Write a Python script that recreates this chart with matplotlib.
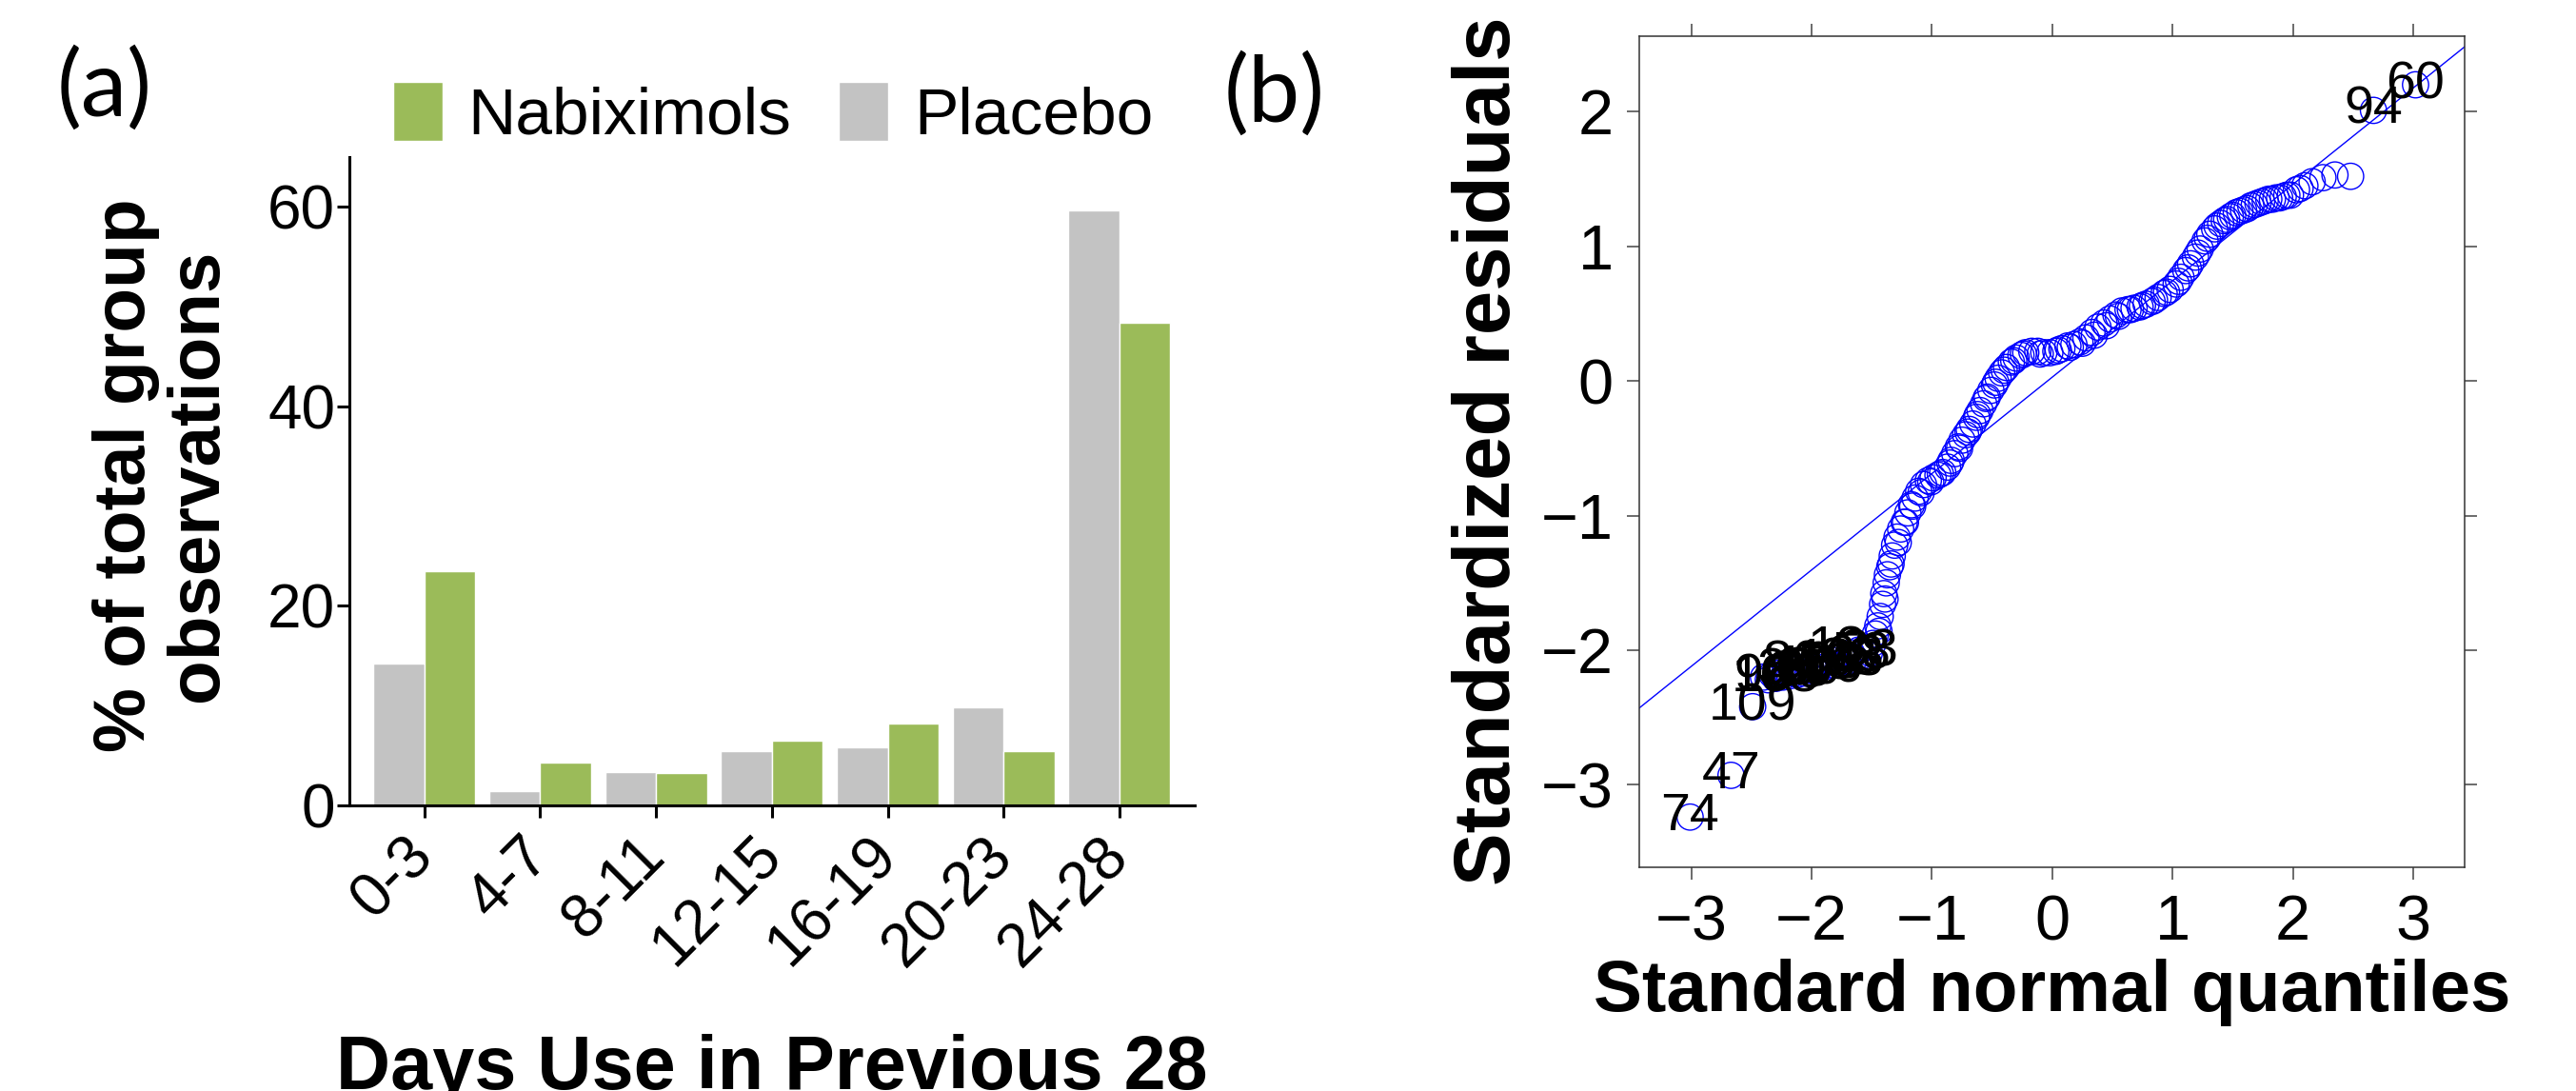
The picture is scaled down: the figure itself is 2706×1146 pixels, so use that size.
import matplotlib
matplotlib.use("Agg")
import matplotlib.pyplot as plt
import numpy as np

plt.rcParams['font.family'] = ['Liberation Sans', 'DejaVu Sans']

# panel (a): % of total group observations
categories = ['0-3', '4-7', '8-11', '12-15', '16-19', '20-23', '24-28']
placebo = [14.2, 1.4, 3.35, 5.4, 5.8, 9.8, 59.7]
nabiximols = [23.5, 4.3, 3.2, 6.5, 8.2, 5.4, 48.4]

# panel (b): QQ plot of standardized residuals
qq_x = [-3.01, -2.67, -2.49,
        -2.40, -2.36, -2.33, -2.30, -2.27, -2.24, -2.21, -2.18, -2.15, -2.12,
        -2.09, -2.06, -2.03, -2.00, -1.97, -1.94, -1.91, -1.88, -1.85, -1.82,
        -1.79, -1.76, -1.73, -1.70, -1.67, -1.64, -1.61, -1.58, -1.55, -1.52,
        -1.49, -1.47, -1.45, -1.43, -1.41, -1.40, -1.38, -1.37, -1.35, -1.33,
        -1.31, -1.29, -1.26, -1.23, -1.20, -1.17, -1.14, -1.11, -1.07, -1.03,
        -0.99, -0.95, -0.91, -0.87, -0.84, -0.81, -0.78, -0.75, -0.72, -0.69,
        -0.66, -0.63, -0.60, -0.57, -0.54, -0.51, -0.48, -0.45, -0.42, -0.38,
        -0.34, -0.30, -0.26, -0.22, -0.17, -0.12, -0.07, -0.02, 0.03, 0.08,
        0.13, 0.18, 0.23, 0.28, 0.33, 0.38, 0.43, 0.48, 0.53, 0.58, 0.63,
        0.68, 0.73, 0.78, 0.83, 0.88, 0.93, 0.98, 1.03, 1.07, 1.11, 1.15,
        1.19, 1.23, 1.27, 1.31, 1.35, 1.40, 1.45, 1.50, 1.56, 1.62, 1.68,
        1.74, 1.80, 1.86, 1.92, 1.98, 2.03, 2.10, 2.16, 2.25, 2.35, 2.48,
        2.67, 3.02,
        # extra overlapping points that thicken the band
        -1.44, -1.39, -1.34, -1.28, -1.22, -1.16, -1.09, -1.01, -0.93, -0.85,
        -0.77, -0.70, -0.62, -0.55, -0.47, -0.40, -0.32, -0.24, -0.10, 0.05,
        0.15, 0.25, 0.35, 0.45, 0.55, 0.65, 0.75, 0.85, 0.95, 1.05, 1.13,
        1.21, 1.29, 1.37, 1.43, 1.48, 1.53, 1.59, 1.65, 1.71, 1.77, 1.83,
        1.89, 1.95, 2.06]
qq_y = [-3.24, -2.93, -2.42,
        -2.20, -2.22, -2.18, -2.21, -2.17, -2.20, -2.16, -2.19, -2.14, -2.18,
        -2.13, -2.17, -2.12, -2.15, -2.10, -2.14, -2.09, -2.12, -2.07, -2.11,
        -2.05, -2.09, -2.04, -2.08, -2.02, -2.06, -2.00, -2.04, -1.98, -2.02,
        -1.95, -1.88, -1.82, -1.75, -1.66, -1.58, -1.50, -1.44, -1.38, -1.30,
        -1.22, -1.16, -1.10, -1.05, -0.98, -0.92, -0.87, -0.82, -0.77, -0.74,
        -0.72, -0.70, -0.68, -0.64, -0.59, -0.54, -0.49, -0.44, -0.40, -0.36,
        -0.32, -0.27, -0.22, -0.17, -0.12, -0.07, -0.03, 0.02, 0.06, 0.10,
        0.14, 0.17, 0.19, 0.21, 0.22, 0.22, 0.21, 0.21, 0.22, 0.24,
        0.26, 0.27, 0.29, 0.32, 0.36, 0.40, 0.43, 0.46, 0.49, 0.52, 0.53,
        0.54, 0.55, 0.57, 0.59, 0.62, 0.65, 0.68, 0.72, 0.77, 0.82, 0.87,
        0.92, 0.98, 1.04, 1.09, 1.13, 1.17, 1.20, 1.23, 1.26, 1.28, 1.31,
        1.33, 1.35, 1.36, 1.37, 1.38, 1.42, 1.45, 1.48, 1.51, 1.53, 1.52,
        2.01, 2.20,
        -1.86, -1.62, -1.36, -1.20, -1.05, -0.93, -0.83, -0.75, -0.69, -0.61,
        -0.50, -0.38, -0.25, -0.13, -0.01, 0.08, 0.15, 0.20, 0.20, 0.23,
        0.25, 0.28, 0.34, 0.41, 0.48, 0.53, 0.56, 0.60, 0.66, 0.74, 0.84,
        0.95, 1.06, 1.15, 1.19, 1.22, 1.25, 1.27, 1.30, 1.32, 1.34, 1.35,
        1.36, 1.38, 1.43]
ref_intercept = 0.028
ref_slope = 0.716

# identified points
id_labels = ['74', '47', '109', '94', '60']
id_x = [-3.01, -2.67, -2.49, 2.67, 3.02]
id_y = [-3.24, -2.93, -2.42, 2.01, 2.20]
# overlapping ids in the low cluster
cluster_labels = ['96', '108', '36', '80', '69', '90', '106', '68', '83', '103',
                  '98', '63', '58', '33', '86', '13']
cluster_x = [-2.40, -2.30, -2.21, -2.12, -2.06, -2.00, -1.94, -1.88, -1.82, -1.76,
             -1.70, -1.64, -1.58, -1.52, -2.16, -1.79]
cluster_y = [-2.20, -2.21, -2.16, -2.18, -2.17, -2.15, -2.14, -2.12, -2.11, -2.09,
             -2.08, -2.06, -2.04, -2.02, -2.10, -2.00]

green = '#9BBB59'
grey = '#C3C3C3'

fig = plt.figure(figsize=(27.06, 11.46), dpi=100)

# ---------- (a) bar chart ----------
ax1 = fig.add_axes([0.1355, 0.2618, 0.3283, 0.5942])
x = np.arange(len(categories))
w = 0.44
b_pla = ax1.bar(x - w / 2, placebo, w, color=grey, edgecolor='white', linewidth=1)
b_nab = ax1.bar(x + w / 2, nabiximols, w, color=green, edgecolor='white', linewidth=1)
ax1.set_xlim(-0.65, 6.65)
ax1.set_ylim(0, 65)
ax1.spines['top'].set_visible(False)
ax1.spines['right'].set_visible(False)
for s in ['left', 'bottom']:
    ax1.spines[s].set_linewidth(2.2)
ax1.set_yticks([0, 20, 40, 60])
ax1.set_xticks(x)
ax1.set_xticklabels(categories, rotation=45, ha='right', va='center',
                    rotation_mode='anchor')
ax1.tick_params(axis='both', length=9.4, width=2.2, labelsize=46)
ax1.tick_params(axis='y', pad=1)
ax1.tick_params(axis='x', pad=22)

ax1.legend([b_nab, b_pla], ['Nabiximols', 'Placebo'], ncol=2, frameon=False,
           fontsize=50, handlelength=0.75, handleheight=1.0, handletextpad=0.38,
           columnspacing=0.72, borderpad=0, borderaxespad=0,
           loc='upper left', bbox_to_anchor=(413 / 2706, 1 - 86 / 1146),
           bbox_transform=fig.transFigure)

fig.text(0.063, 0.564, '% of total group\nobservations', rotation=90,
         ha='center', va='center', fontsize=55, fontweight='bold',
         linespacing=1.1, multialignment='center')
fig.text(0.2996, 0.002, 'Days Use in Previous 28', ha='center', va='baseline',
         fontsize=57, fontweight='bold')

# ---------- (b) QQ plot ----------
ax2 = fig.add_axes([0.63625, 0.20506, 0.32062, 0.76152])
ax2.axline((0, ref_intercept), slope=ref_slope, color='blue', lw=1.0)
ax2.scatter(qq_x, qq_y, s=390, facecolors='none', edgecolors='blue', linewidths=1.0)
for lab, px, py in zip(cluster_labels, cluster_x, cluster_y):
    ax2.text(px, py, lab, ha='center', va='center', fontsize=40, color='black')
for lab, px, py in zip(id_labels, id_x, id_y):
    ax2.text(px, py, lab, ha='center', va='center', fontsize=40, color='black')
ax2.set_xlim(-3.435, 3.43)
ax2.set_ylim(-3.613, 2.559)
ax2.set_xticks(range(-3, 4))
ax2.set_yticks(range(-3, 3))
ax2.tick_params(axis='both', direction='out', length=9.4, width=1.1, color='#444',
                labelsize=48, top=True, right=True)
ax2.tick_params(axis='y', pad=10)
ax2.tick_params(axis='x', pad=11)
for s in ax2.spines.values():
    s.set_linewidth(1.1)
    s.set_color('#333')
fig.text(0.578, 0.587, 'Standardized residuals', rotation=90, ha='center',
         va='center', fontsize=60, fontweight='bold')
fig.text(0.7966, 1 - 1062 / 1146, 'Standard normal quantiles', ha='center',
         va='baseline', fontsize=55, fontweight='bold')

# panel letters
fig.text(0.0222, 0.918, '(a)', ha='left', va='center', fontsize=70, family='Lato')
fig.text(1286 / 2706, 0.913, '(b)', ha='left', va='center', fontsize=70, family='Lato')

fig.savefig('out.png', dpi=100)
